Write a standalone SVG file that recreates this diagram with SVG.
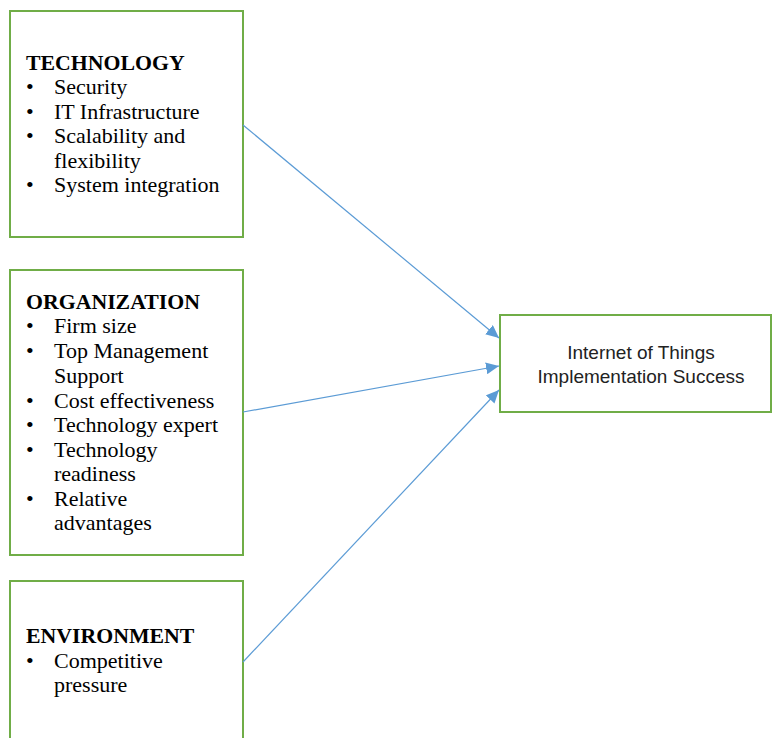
<svg xmlns="http://www.w3.org/2000/svg" width="772" height="738" viewBox="0 0 772 738">
<style>
.box{fill:#fff;stroke:#70AD47;stroke-width:2}
.h{font-family:"Liberation Serif","Times New Roman",serif;font-size:21.8px;font-weight:bold;fill:#000}
.t{font-family:"Liberation Serif","Times New Roman",serif;font-size:22px;fill:#000}
.s{font-family:"Liberation Sans",Arial,sans-serif;font-size:19px;fill:#222;text-anchor:middle}
.c{stroke:#5B9BD5;stroke-width:1.2;fill:none;marker-end:url(#ah)}
</style>
<defs>
<marker id="ah" markerUnits="userSpaceOnUse" markerWidth="14" markerHeight="12" refX="13" refY="6" orient="auto">
<path d="M0,0 L13,6 L0,12 Z" fill="#5B9BD5"/>
</marker>
</defs>
<rect width="772" height="738" fill="#fff"/>
<g id="technology">
<rect class="box" x="10" y="11" width="233" height="226"/>
<text class="h" x="26" y="70">TECHNOLOGY</text>
<text class="t" x="26" y="94">•</text><text class="t" x="54" y="94">Security</text>
<text class="t" x="26" y="119">•</text><text class="t" x="54" y="119">IT Infrastructure</text>
<text class="t" x="26" y="143">•</text><text class="t" x="54" y="143">Scalability and</text>
<text class="t" x="54" y="168">flexibility</text>
<text class="t" x="26" y="192">•</text><text class="t" x="54" y="192">System integration</text>
</g>
<g id="organization">
<rect class="box" x="10" y="270" width="233" height="285"/>
<text class="h" x="26" y="309">ORGANIZATION</text>
<text class="t" x="26" y="333">•</text><text class="t" x="54" y="333">Firm size</text>
<text class="t" x="26" y="358">•</text><text class="t" x="54" y="358">Top Management</text>
<text class="t" x="54" y="383">Support</text>
<text class="t" x="26" y="408">•</text><text class="t" x="54" y="408">Cost effectiveness</text>
<text class="t" x="26" y="432">•</text><text class="t" x="54" y="432">Technology expert</text>
<text class="t" x="26" y="457">•</text><text class="t" x="54" y="457">Technology</text>
<text class="t" x="54" y="481">readiness</text>
<text class="t" x="26" y="506">•</text><text class="t" x="54" y="506">Relative</text>
<text class="t" x="54" y="530">advantages</text>
</g>
<g id="environment">
<rect class="box" x="10" y="581" width="233" height="170"/>
<text class="h" x="26" y="643">ENVIRONMENT</text>
<text class="t" x="26" y="668">•</text><text class="t" x="54" y="668">Competitive</text>
<text class="t" x="54" y="692">pressure</text>
</g>
<g id="iot">
<rect class="box" x="500" y="315" width="271" height="97"/>
<text class="s" x="641" y="359">Internet of Things</text>
<text class="s" x="641" y="383">Implementation Success</text>
</g>
<g id="connectors">
<line class="c" x1="243" y1="125" x2="499" y2="338"/>
<line class="c" x1="243" y1="412" x2="499" y2="366"/>
<line class="c" x1="243" y1="662" x2="499" y2="390"/>
</g>
</svg>
